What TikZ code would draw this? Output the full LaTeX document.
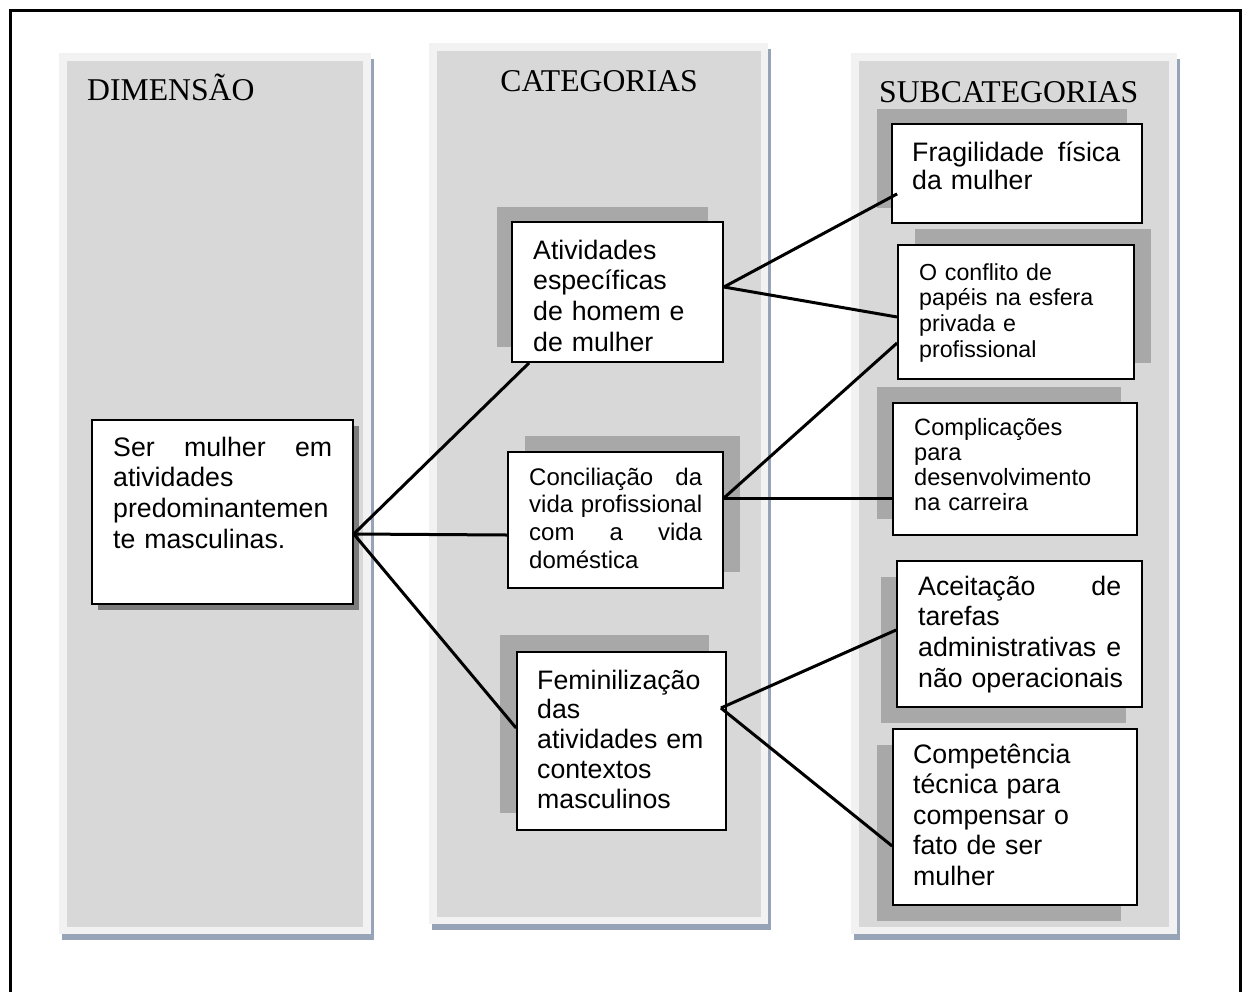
\documentclass[tikz,border=0pt]{standalone}
\usepackage{fontspec}
\setmainfont{Liberation Sans}
\newfontfamily\headserif{Liberation Serif}
\usetikzlibrary{shadows}

\definecolor{colouter}{HTML}{F2F2F2}
\definecolor{colinner}{HTML}{D8D8D8}
\definecolor{colshade}{HTML}{97A4B8}
\definecolor{boxshade}{HTML}{A8A8A8}
\definecolor{dropshade}{HTML}{7C7C7C}

% a line set flush to both margins of a given width
\newcommand{\fullline}[2]{\leavevmode\hbox to #1{#2}}

\tikzset{
  card/.style={draw=black, line width=1.8pt, fill=white, rectangle, inner sep=0pt},
  shadeto/.style 2 args={drop shadow={shadow xshift=#1, shadow yshift=#2, fill=boxshade, opacity=1}},
  bigtxt/.style={anchor=base west, inner sep=0pt, align=left, text width=280pt,
    font=\fontsize{26.7}{30.7}\selectfont},
  smalltxt/.style={anchor=base west, inner sep=0pt, align=left, text width=280pt,
    font=\fontsize{23.6}{26.5}\selectfont},
  headtxt/.style={inner sep=0pt, font=\headserif\fontsize{31.7}{36}\selectfont},
  link/.style={line width=3pt},
}

\begin{document}
\begin{tikzpicture}[x=1pt, y=-1pt]
\useasboundingbox (0,0) rectangle (1249,991);

% page frame (open at the bottom)
\draw[line width=2.6pt] (10.3,1000) -- (10.3,10.3) -- (1240.7,10.3) -- (1240.7,1000);

% three column panels: shadow, light rim, grey body
\fill[colshade] (62,59) rectangle (374,940);
\fill[colouter] (59,53) rectangle (371,934);
\fill[colinner] (67,61) rectangle (363,927);

\fill[colshade] (432,49) rectangle (771,930);
\fill[colouter] (429,43) rectangle (768,924);
\fill[colinner] (437,51) rectangle (761,917);

\fill[colshade] (854,59) rectangle (1180,940);
\fill[colouter] (851,53) rectangle (1177,934);
\fill[colinner] (859,61) rectangle (1169,927);

% column headings
\node[headtxt, anchor=base west] (hdim) at (87,100) {DIMENSÃO};
\node[headtxt, anchor=base] (hcat) at (599,91) {CATEGORIAS};
\node[headtxt, anchor=base west] (hsub) at (879,102) {SUBCATEGORIAS};

% boxes
\node[card, line width=1.5pt, minimum width=261pt, minimum height=184pt,
  drop shadow={shadow xshift=6pt, shadow yshift=-6pt, fill=dropshade, opacity=1}]
  (A) at (222.5,512) {};
\node[card, shadeto={-15pt}{15pt}, minimum width=211pt, minimum height=140pt] (B) at (617.5,292) {};
\node[card, shadeto={17pt}{16pt}, minimum width=215pt, minimum height=136pt] (C) at (615.5,520) {};
\node[card, shadeto={-17pt}{17pt}, minimum width=209pt, minimum height=178pt] (D) at (621.5,741) {};
\node[card, shadeto={-15pt}{15pt}, minimum width=250pt, minimum height=99pt] (E) at (1017,173.5) {};
\node[card, shadeto={17pt}{16pt}, minimum width=236pt, minimum height=134pt] (F) at (1016,312) {};
\node[card, shadeto={-16pt}{16pt}, minimum width=244pt, minimum height=132pt] (G) at (1015,469) {};
\node[card, shadeto={-16pt}{-16pt}, minimum width=245pt, minimum height=146pt] (H) at (1019.5,634) {};
\node[card, shadeto={-16pt}{-16pt}, minimum width=244pt, minimum height=176pt] (I) at (1015,817) {};

% box texts
\node[bigtxt] (tA) at (113,456)
  {\fullline{219pt}{Ser\hfill mulher\hfill em}\\atividades\\predominantemen\\te masculinas.};
\node[bigtxt] (tB) at (533,259)
  {Atividades\\específicas\\de homem e\\de mulher};
\node[smalltxt, font=\fontsize{24}{27.7}\selectfont] (tC) at (529,485)
  {\fullline{173pt}{Conciliação\hfill da}\\\fullline{173pt}{vida\hfill profissional}\\\fullline{173pt}{com\hfill a\hfill vida}\\doméstica};
\node[bigtxt, font=\fontsize{26.7}{29.8}\selectfont] (tD) at (537,689)
  {Feminilização\\das\\atividades em\\contextos\\masculinos};
\node[bigtxt, font=\fontsize{26.7}{28.5}\selectfont] (tE) at (912,161)
  {\fullline{208pt}{Fragilidade\hfill física}\\da mulher};
\node[smalltxt, font=\fontsize{23.2}{25.7}\selectfont] (tF) at (919,280)
  {O conflito de\\papéis na esfera\\privada e\\profissional};
\node[smalltxt, font=\fontsize{23.6}{25.2}\selectfont] (tG) at (914,435)
  {Complicações\\para\\desenvolvimento\\na carreira};
\node[bigtxt] (tH) at (918,595)
  {\fullline{203pt}{Aceitação\hfill de}\\tarefas\\\fullline{203pt}{administrativas\hfill e}\\não operacionais};
\node[bigtxt, font=\fontsize{26.7}{30.5}\selectfont] (tI) at (913,763)
  {Competência\\técnica para\\compensar o\\fato de ser\\mulher};

% connectors
\draw[link] ([yshift=-22pt]A.east) -- ([xshift=18pt]B.south west);
\draw[link] ([yshift=-22pt]A.east) -- ([yshift=-15pt]C.west);
\draw[link] ([yshift=-22pt]A.east) -- ([yshift=13pt]D.west);

\draw[link] ([yshift=5pt]B.east) -- ([xshift=6pt,yshift=30pt]E.south west);
\draw[link] ([yshift=5pt]B.east) -- ([yshift=-5pt]F.west);

\draw[link] ([yshift=22pt]C.east) -- ([yshift=-31pt]F.west);
\draw[link] ([yshift=22pt]C.east) -- ([xshift=2pt,yshift=-29pt]G.west);

\draw[link] ([xshift=-6pt,yshift=33pt]D.east) -- ([yshift=4pt]H.west);
\draw[link] ([xshift=-6pt,yshift=33pt]D.east) -- ([yshift=-29pt]I.west);
\end{tikzpicture}
\end{document}
